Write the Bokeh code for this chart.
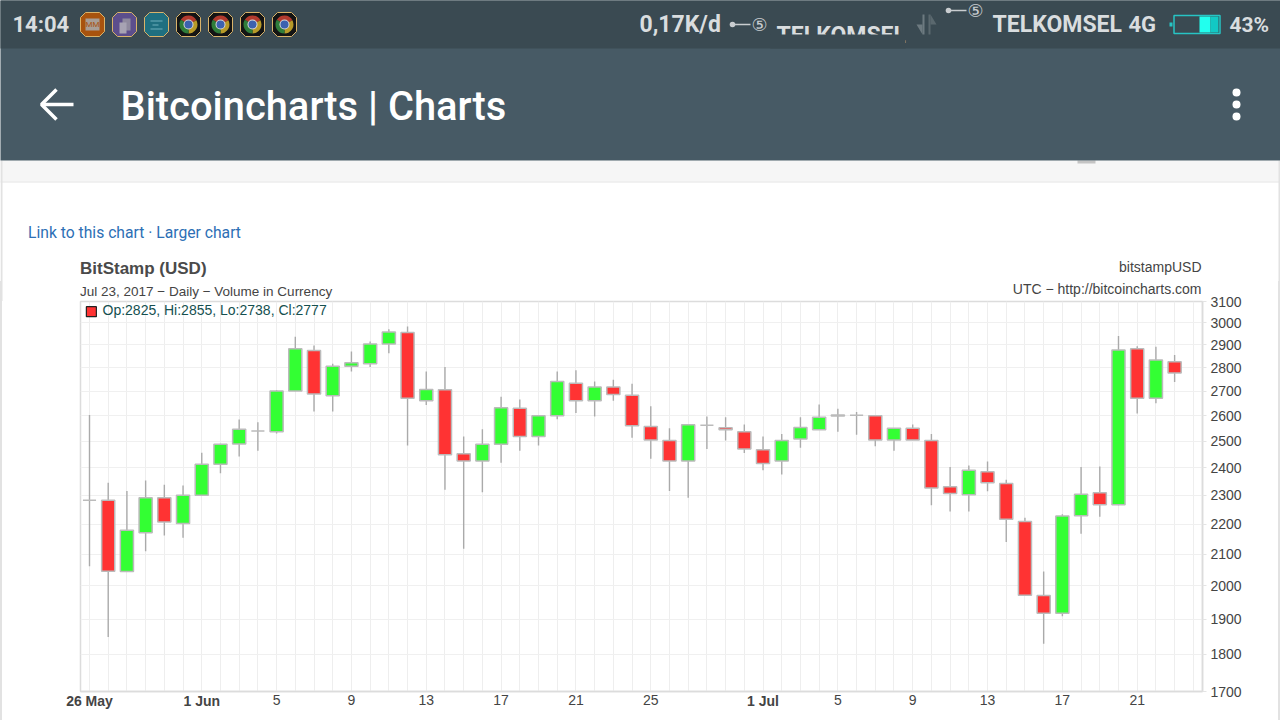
from bokeh.plotting import figure
from bokeh.layouts import column
from bokeh.core.properties import value
from bokeh.embed import file_html
from bokeh.resources import INLINE
from bokeh.models import ColumnDataSource, Range1d, FixedTicker, LinearAxis, Label

opens  = [2282,2282,2045,2171,2291,2202,2300,2413,2489,2539,2536,2701,2875,2681,2806,2817,2903,2956,2661,2706,
          2452,2425,2488,2630,2518,2600,2733,2660,2717,2683,2557,2502,2425,2562,2552,2536,2467,2425,2508,2544,
          2599,2602,2600,2504,2550,2502,2330,2302,2385,2342,2209,1971,1918,2229,2309,2267,2882,2671,2825]
highs  = [2603,2345,2315,2353,2338,2335,2456,2490,2585,2574,2705,2936,2897,2817,2870,2915,2970,2983,2783,2802,
          2518,2546,2677,2666,2603,2783,2789,2741,2748,2731,2638,2550,2566,2597,2594,2565,2518,2528,2594,2645,
          2628,2615,2602,2550,2565,2528,2402,2408,2423,2356,2222,2045,2234,2402,2404,2940,2894,2891,2855]
lows   = [2062,1849,2045,2110,2162,2154,2298,2379,2442,2463,2530,2700,2617,2617,2783,2802,2862,2483,2643,2320,
          2118,2311,2418,2463,2483,2586,2611,2597,2660,2513,2433,2315,2291,2470,2502,2455,2390,2375,2475,2544,
          2536,2525,2480,2463,2504,2265,2243,2243,2314,2140,1970,1830,1909,2168,2225,2265,2609,2650,2738]
closes = [2282,2046,2179,2291,2207,2300,2413,2488,2546,2539,2701,2882,2688,2806,2821,2903,2958,2671,2707,2448,
          2425,2488,2632,2518,2600,2741,2660,2717,2686,2560,2504,2425,2564,2562,2544,2470,2415,2502,2553,2594,
          2603,2602,2504,2550,2504,2326,2306,2390,2345,2217,1972,1918,2228,2304,2267,2877,2671,2833,2777]
price_ticks = [1700,1800,1900,2000,2100,2200,2300,2400,2500,2600,2700,2800,2900,3000,3100]
day_ticks   = [10,14,18,22,26,30,40,44,48,52,56]
day_labels  = ["5","9","13","17","21","25","5","9","13","17","21"]
month_ticks  = [0,6,36]
month_labels = ["26 May","1 Jun","1 Jul"]

W, H_TOP = 1280, 301
OVER = 20

# ---------- page furniture: a figure whose data space is the screen's pixels ----------
h = figure(width=W, height=H_TOP, output_backend="svg", toolbar_location=None,
           x_axis_type=None, y_axis_type=None, x_range=Range1d(0, W), y_range=Range1d(H_TOP, 0),
           min_border=0, min_border_left=0, min_border_right=0, min_border_top=0, min_border_bottom=0,
           outline_line_color=None, background_fill_color="white", border_fill_color="white",
           frame_align=False)
h.grid.visible = False

def box(X0, Y0, X1, Y1, fill, line=None, lw=1):
    h.quad(left=X0, right=X1, top=Y0, bottom=Y1, fill_color=fill, line_color=line, line_width=lw,
           fill_alpha=1 if fill else 0)

def icon(X, fill, border="#d9b36a"):
    c = 5
    xs = [X+c, X+24-c, X+24, X+24, X+24-c, X+c, X, X]
    ys = [12, 12, 12+c, 36-c, 36, 36, 36-c, 12+c]
    h.patch(xs, ys, fill_color=fill, line_color=border, line_width=1)

def text(X, Y, s, size, color, font="Roboto", style="normal", align="left"):
    h.text(x=[X], y=[Y], text=[s], text_align=align, text_baseline="middle", text_font=value(font),
           text_font_size=value(f"{size}px"), text_color=color, text_font_style=style)

BAR, APP, GREY = "#3a4a52", "#475a65", "#d9dddf"

box(-4, 160, W+4, 181, "#f6f6f6")
box(-4, 181, W+4, 182, "#e3e3e3")
box(1077, 160, 1095, 163, "#c4c4c4")
box(0, 160, 2, H_TOP, "#e2e2e2")
box(W-2, 160, W, H_TOP, "#e2e2e2")
box(-4, -4, W+4, 160, APP)
box(-4, -4, W+4, 48, BAR)

text(12, 24, "14:04", 22, GREY, style="bold")
icon(80, "#a8530e")
box(85, 18, 99, 30, "#a89e96")
text(92, 24, "MM", 8, "#a8530e", align="center")
icon(112, "#5c4e8c")
box(122, 18, 130, 30, "#8f8a9e")
box(119, 22, 126, 33, "#a7a3b3")
icon(144, "#1f6f80")
box(150, 20, 162, 21, "#6fb0bb")
box(152, 24, 158, 25, "#6fb0bb")
box(150, 28, 162, 29, "#6fb0bb")
for X in (176, 208, 240, 272):
    icon(X, "#141414")
    cx = X + 12
    # screen y runs downward; angles are given on the flipped axis
    h.wedge(x=[cx], y=[24], radius=9, start_angle=0.5, end_angle=2.6, direction="anticlock", fill_color="#b23a2e", line_color=None)
    h.wedge(x=[cx], y=[24], radius=9, start_angle=-1.57, end_angle=0.5, direction="anticlock", fill_color="#b89a28", line_color=None)
    h.wedge(x=[cx], y=[24], radius=9, start_angle=2.6, end_angle=4.71, direction="anticlock", fill_color="#2f7d3a", line_color=None)
    h.circle(x=[cx], y=[24], radius=5, fill_color="#d8d8d8", line_color=None)
    h.circle(x=[cx], y=[24], radius=4, fill_color="#3c62b0", line_color=None)

text(639, 24, "0,17K/d", 23, GREY, style="bold")

def sim(X, Y):
    h.circle(x=[X+3], y=[Y], radius=2.8, fill_color="#c9cdd0", line_color=None)
    box(X+4, Y-0.7, X+21, Y+0.7, "#c9cdd0")
    text(X+30, Y, "\u2464", 18, "#c9cdd0", font="DejaVu Sans", align="center")

sim(729, 24)
text(776, 35, "TELKOMSEL", 23, GREY, style="bold")
box(770, 34, 905, 48, BAR)
h.patch([916, 922, 922], [24, 24, 34], fill_color="#6d7a80", line_color=None)
box(922, 14, 924, 34, "#6d7a80")
box(928, 14, 930, 34, "#5a686e")
h.patch([930, 936, 930], [14, 24, 24], fill_color="#5a686e", line_color=None)
sim(945, 10)
text(992, 24, "TELKOMSEL", 23, GREY, style="bold")
text(1128, 24, "4G", 22, GREY, style="bold")
box(1169, 22, 1172, 26, "#27c4c4")
box(1173.5, 15, 1219.5, 33, None, "#27c4c4", 1.5)
box(1199, 16, 1210, 32, "#22ffee")
box(1210, 16, 1218, 32, "#12c9c4")
text(1229, 24, "43%", 21, GREY, style="bold")

h.line([41, 73], [104, 104], line_color="white", line_width=3.5)
h.line([56, 41, 56], [89, 104, 119], line_color="white", line_width=3.5)
text(120, 106, "Bitcoincharts | Charts", 39.8, "white", font="Roboto Medium")
h.circle(x=[1236]*3, y=[92, 104, 116], radius=4, fill_color="white", line_color=None)

text(27.5, 232, "Link to this chart \u00b7 Larger chart", 15.7, "#2d6fb5")
text(79.5, 268, "BitStamp (USD)", 17, "#4a4a4a", font="Liberation Sans", style="bold")
text(79.5, 291, "Jul 23, 2017 \u2212 Daily \u2212 Volume in Currency", 13.5, "#444444", font="Liberation Sans")
text(1201, 266, "bitstampUSD", 14, "#444444", font="Liberation Sans", align="right")
text(1201, 288, "UTC \u2212 http://bitcoincharts.com", 14, "#444444", font="Liberation Sans", align="right")

# ---------- the chart ----------
p = figure(width=W, height=720-H_TOP+OVER, output_backend="svg", toolbar_location=None,
           y_axis_type="log", y_axis_location="right",
           x_range=Range1d(-0.481, 59.49), y_range=Range1d(1700, 3100),
           min_border_left=80, min_border_right=78, min_border_top=OVER, min_border_bottom=29,
           background_fill_color="white", border_fill_color=None,
           outline_line_color="#dcdcdc", outline_line_width=1.5,
           margin=(-OVER, 0, 0, 0), frame_align=False,
           styles={"box-shadow": "inset 2px 0 0 #e2e2e2, inset -2px 0 0 #e2e2e2"})

xs = list(range(len(opens)))
src = ColumnDataSource(dict(x=xs, high=highs, low=lows,
                            top=[max(o, c) for o, c in zip(opens, closes)],
                            bottom=[min(o, c) for o, c in zip(opens, closes)],
                            color=["#33ff33" if c > o else "#ff3333" for o, c in zip(opens, closes)]))
p.segment("x", "high", "x", "low", source=src, line_color="#aaaaaa", line_width=1.4)
p.vbar("x", 0.7, "top", "bottom", source=src, fill_color="color", line_color="#bbbbbb", line_width=1.5)

p.xaxis.ticker = FixedTicker(ticks=day_ticks)
p.xaxis.major_label_overrides = dict(zip(day_ticks, day_labels))
p.yaxis.ticker = FixedTicker(ticks=price_ticks)
p.yaxis.major_label_overrides = {v: str(v) for v in price_ticks}
month_axis = LinearAxis(ticker=FixedTicker(ticks=month_ticks),
                        major_label_overrides=dict(zip(month_ticks, month_labels)),
                        major_label_text_font_style="bold", axis_line_color=None, major_tick_line_color=None,
                        major_label_standoff=-15)
p.add_layout(month_axis, "below")
for ax in (p.xaxis[0], p.yaxis[0], month_axis):
    ax.major_tick_in = 0
    ax.minor_tick_line_color = None
    ax.major_label_text_font = "Liberation Sans"
    ax.major_label_text_font_size = "14px"
    ax.major_label_text_color = "#444444"
p.xaxis[0].axis_line_color = "#dcdcdc"
p.yaxis[0].axis_line_color = "#dcdcdc"
p.xaxis[0].axis_line_width = 1.5
p.yaxis[0].axis_line_width = 1.5
p.xaxis[0].major_tick_out = 0
month_axis.major_tick_out = 0
p.xaxis[0].major_label_standoff = 3
p.yaxis.major_tick_out = 4
p.yaxis.major_tick_line_color = "#e4e4e4"
p.yaxis.major_label_standoff = 4
p.xgrid.ticker = FixedTicker(ticks=list(range(len(opens) + 1)))
p.ygrid.ticker = FixedTicker(ticks=price_ticks)
p.xgrid.grid_line_color = "#eeeeee"
p.ygrid.grid_line_color = "#f0f0f0"

# legend inside the plot
p.square(x=[0.1], y=[3052], size=10, fill_color="#ff3333", line_color="#222222", line_width=1.2)
p.add_layout(Label(x=22, y=382, x_units="screen", y_units="screen", text="Op:2825, Hi:2855, Lo:2738, Cl:2777",
                   text_baseline="middle", text_font="Liberation Sans", text_font_size="14px", text_color="#155050"))

open("out.html", "w").write(file_html(column(h, p, spacing=0), INLINE))
